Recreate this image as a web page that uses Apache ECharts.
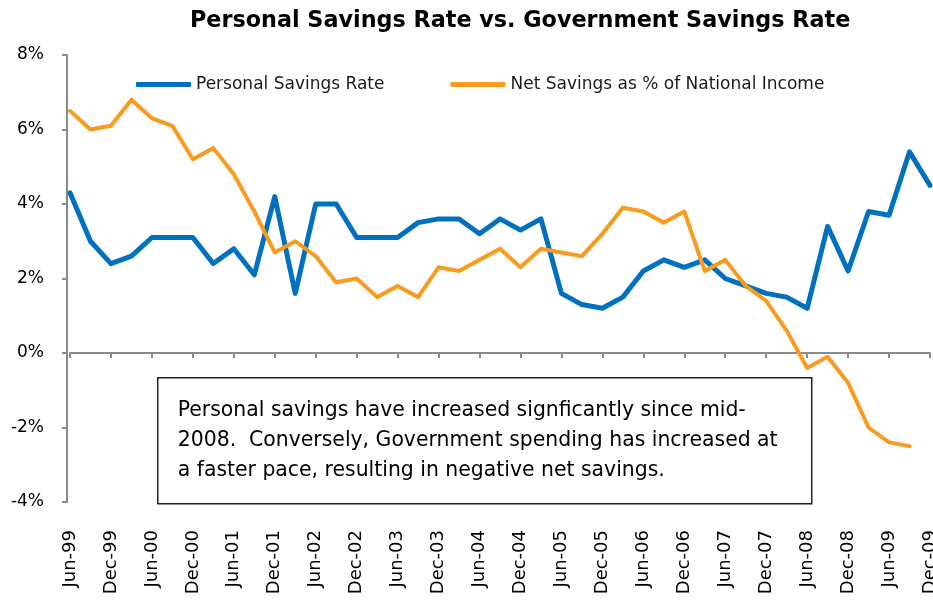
<!DOCTYPE html>
<html>
<head>
<meta charset="utf-8">
<script src="https://cdn.jsdelivr.net/npm/echarts@6/dist/echarts.min.js"></script>
<style>
  html, body { margin: 0; padding: 0; background: #fff; }
  #chart { width: 933px; height: 600px; }
</style>
</head>
<body>
<div id="chart"></div>
<script>
// Quarter-end dates, June 1999 through December 2009
const quarters = [
  'Jun-99', 'Sep-99', 'Dec-99',
  'Mar-00', 'Jun-00', 'Sep-00', 'Dec-00',
  'Mar-01', 'Jun-01', 'Sep-01', 'Dec-01',
  'Mar-02', 'Jun-02', 'Sep-02', 'Dec-02',
  'Mar-03', 'Jun-03', 'Sep-03', 'Dec-03',
  'Mar-04', 'Jun-04', 'Sep-04', 'Dec-04',
  'Mar-05', 'Jun-05', 'Sep-05', 'Dec-05',
  'Mar-06', 'Jun-06', 'Sep-06', 'Dec-06',
  'Mar-07', 'Jun-07', 'Sep-07', 'Dec-07',
  'Mar-08', 'Jun-08', 'Sep-08', 'Dec-08',
  'Mar-09', 'Jun-09', 'Sep-09', 'Dec-09'
];

// Personal savings rate, % of disposable income
const personalSavings = [
  4.3, 3.0, 2.4, 2.6, 3.1, 3.1, 3.1, 2.4, 2.8, 2.1,
  4.2, 1.6, 4.0, 4.0, 3.1, 3.1, 3.1, 3.5, 3.6, 3.6,
  3.2, 3.6, 3.3, 3.6, 1.6, 1.3, 1.2, 1.5, 2.2, 2.5,
  2.3, 2.5, 2.0, 1.8, 1.6, 1.5, 1.2, 3.4, 2.2, 3.8,
  3.7, 5.4, 4.5
];

// Net national savings as % of national income (through Sep-09)
const netSavings = [
  6.5, 6.0, 6.1, 6.8, 6.3, 6.1, 5.2, 5.5, 4.8, 3.8,
  2.7, 3.0, 2.6, 1.9, 2.0, 1.5, 1.8, 1.5, 2.3, 2.2,
  2.5, 2.8, 2.3, 2.8, 2.7, 2.6, 3.2, 3.9, 3.8, 3.5,
  3.8, 2.2, 2.5, 1.8, 1.4, 0.6, -0.4, -0.1, -0.8, -2.0,
  -2.4, -2.5
];

const yTicks = { min: -4, max: 8, step: 2 };

const seriesNames = ['Personal Savings Rate', 'Net Savings as % of National Income'];

const noteText = 'Personal savings have increased signficantly since mid-\n' +
  '2008.  Conversely, Government spending has increased at\n' +
  'a faster pace, resulting in negative net savings.';

const FONT = 'DejaVu Sans';
const AXIS_GRAY = '#8a8a8a';
const BLUE = '#0070C0';
const ORANGE = '#F89B1F';

const chart = echarts.init(document.getElementById('chart'), null, { renderer: 'canvas' });

chart.setOption({
  backgroundColor: '#ffffff',
  animation: false,
  title: {
    text: 'Personal Savings Rate vs. Government Savings Rate',
    left: 185,
    top: 5,
    textStyle: { fontFamily: FONT, fontWeight: 'bold', fontSize: 22.3, color: '#000' }
  },
  legend: {
    left: 131,
    top: 71,
    icon: 'roundRect',
    itemWidth: 55,
    itemHeight: 5,
    itemGap: 66,
    data: seriesNames,
    textStyle: { fontFamily: FONT, fontSize: 17, color: '#1a1a1a' }
  },
  grid: { left: 70, right: 3, top: 55, bottom: 98, containLabel: false, outerBoundsMode: 'none' },
  xAxis: [
    {
      // category labels along the bottom of the plot
      type: 'category',
      data: quarters,
      boundaryGap: false,
      position: 'bottom',
      axisLine: { show: false, onZero: false },
      axisTick: { show: false },
      axisLabel: {
        interval: 1,
        rotate: 90,
        margin: 28,
        fontFamily: FONT,
        fontSize: 18,
        color: '#000',
        hideOverlap: false
      },
      splitLine: { show: false }
    },
    {
      // horizontal axis line drawn through 0%
      type: 'category',
      data: quarters,
      boundaryGap: false,
      position: 'bottom',
      axisLine: { show: true, onZero: true, lineStyle: { color: AXIS_GRAY, width: 2 } },
      axisTick: { show: true, interval: 1, length: 5, lineStyle: { color: AXIS_GRAY, width: 2 } },
      axisLabel: { show: false },
      splitLine: { show: false }
    }
  ],
  yAxis: {
    type: 'value',
    min: yTicks.min,
    max: yTicks.max,
    interval: yTicks.step,
    offset: 3,
    axisLine: { show: true, lineStyle: { color: AXIS_GRAY, width: 2 } },
    axisTick: { show: true, length: 5, lineStyle: { color: AXIS_GRAY, width: 2 } },
    axisLabel: {
      formatter: '{value}%',
      margin: 23,
      fontFamily: FONT,
      fontSize: 17,
      color: '#000'
    },
    splitLine: { show: false }
  },
  series: [
    {
      name: seriesNames[0],
      type: 'line',
      data: personalSavings,
      xAxisIndex: 0,
      symbol: 'none',
      showSymbol: false,
      color: BLUE,
      lineStyle: { color: BLUE, width: 5, cap: 'round', join: 'round' }
    },
    {
      name: seriesNames[1],
      type: 'line',
      data: netSavings,
      xAxisIndex: 0,
      symbol: 'none',
      showSymbol: false,
      color: ORANGE,
      lineStyle: { color: ORANGE, width: 4, cap: 'round', join: 'round' }
    }
  ],
  graphic: [
    {
      type: 'group',
      left: 157,
      top: 377,
      children: [
        {
          type: 'rect',
          shape: { x: 0, y: 0, width: 654, height: 126 },
          style: { fill: '#fff', stroke: '#222', lineWidth: 1.5 }
        },
        {
          type: 'text',
          x: 20,
          y: 18,
          style: {
            text: noteText,
            font: '20.4px "DejaVu Sans"',
            lineHeight: 30,
            fill: '#000'
          }
        }
      ]
    }
  ]
});
</script>
</body>
</html>
